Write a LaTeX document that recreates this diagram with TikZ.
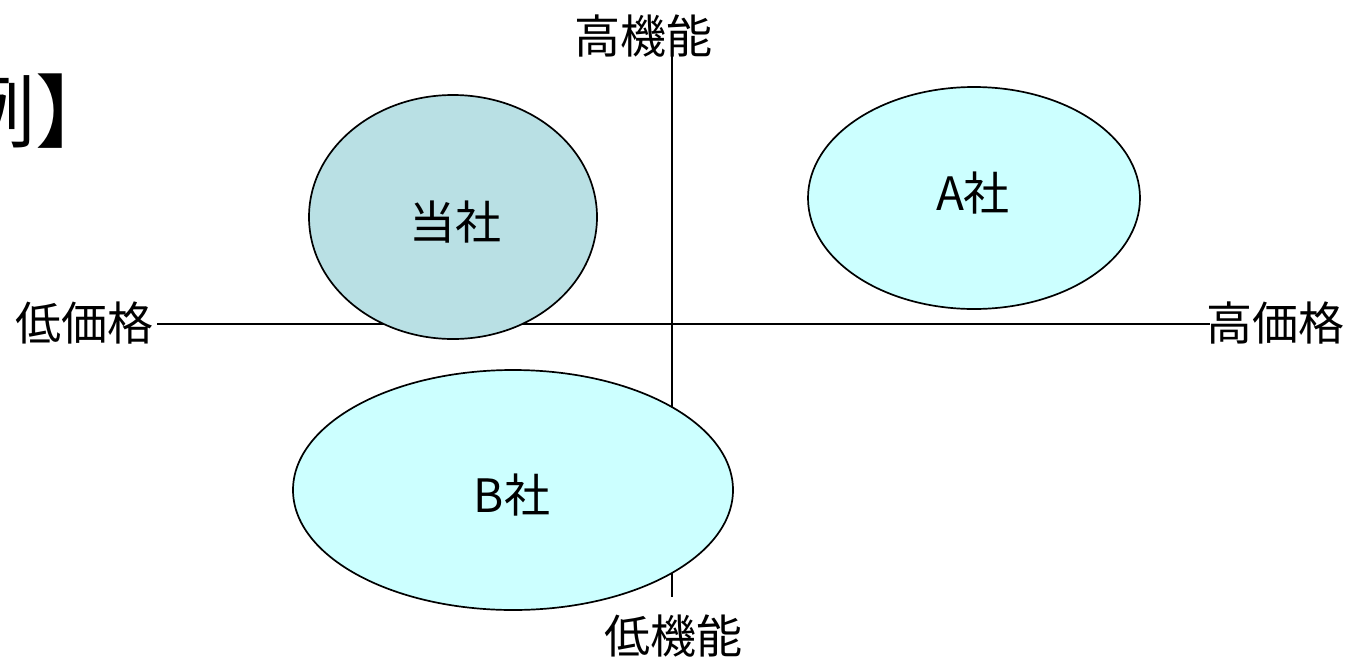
\documentclass[tikz,border=0pt]{standalone}
\usepackage{fontspec}
\setmainfont{Noto Sans CJK JP}
\usetikzlibrary{shapes.geometric}
\definecolor{ourfill}{RGB}{185,224,228}
\definecolor{rivalfill}{RGB}{204,255,255}
\tikzset{
  lbl/.style={font=\fontsize{46}{52}\selectfont, inner sep=0pt},
  axis/.style={line width=1.8pt, black},
  firm/.style={line width=1.7pt, draw=black},
}
\begin{document}
\begin{tikzpicture}[x=1pt,y=-1pt]
\useasboundingbox (0,0) rectangle (1351,659);
% title fragment (cut off at the left edge, as in the reference)
\node[font=\fontsize{80}{90}\selectfont, inner sep=0pt, anchor=east] (title) at (116,111) {例】};
% axis labels
\node[lbl] (hifunc) at (643,36) {高機能};
\node[lbl] (lofunc) at (673,636) {低機能};
\node[lbl] (loprice) at (84,323) {低価格};
\node[lbl] (hiprice) at (1275,323) {高価格};
\coordinate (vtop) at (672,45);
\coordinate (vbot) at (672,597);
\coordinate (hleft) at (157,324);
\coordinate (hright) at (1210,324);
\draw[axis] (hleft) -- (hright);
\draw[axis] (vtop) -- (vbot);
% firms
\draw[firm, fill=ourfill] (453,217) ellipse [x radius=144, y radius=122];
\node[lbl] (us) at (455,222) {当社};
\draw[firm, fill=rivalfill] (974,198) ellipse [x radius=166, y radius=111];
\node[lbl] (a) at (973,193) {A社};
\draw[firm, fill=rivalfill] (513,490) ellipse [x radius=220, y radius=120];
\node[lbl] (b) at (512,495) {B社};
\end{tikzpicture}
\end{document}
